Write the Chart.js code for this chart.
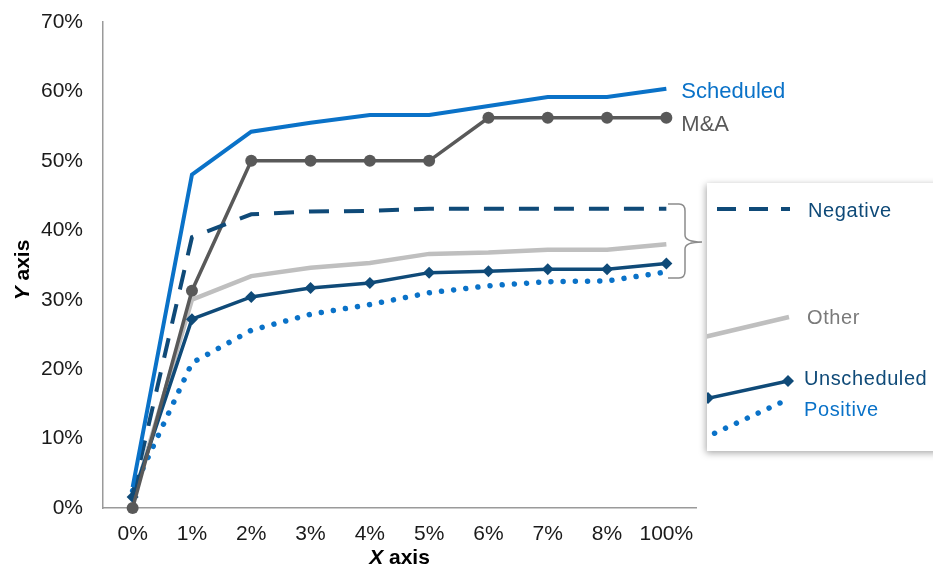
<!DOCTYPE html>
<html>
<head>
<meta charset="utf-8">
<script src="https://cdn.jsdelivr.net/npm/chart.js@4"></script>
<style>
  html, body { margin: 0; padding: 0; background: #fff; }
  #wrap { width: 933px; height: 569px; position: relative; }
</style>
</head>
<body>
<div id="wrap"><canvas id="chart" width="933" height="569"></canvas></div>
<script>
const categories = ["0%", "1%", "2%", "3%", "4%", "5%", "6%", "7%", "8%", "100%"];
const yTicks = [0, 10, 20, 30, 40, 50, 60, 70];

const scheduled = [3, 48, 54.2, 55.5, 56.6, 56.6, 57.9, 59.2, 59.2, 60.4];
const mna = [0, 31.3, 50, 50, 50, 50, 56.2, 56.2, 56.2, 56.2];
const negative = [2, 39, 42.3, 42.7, 42.8, 43.1, 43.1, 43.1, 43.1, 43.1];
const other = [1, 30, 33.4, 34.6, 35.3, 36.6, 36.8, 37.2, 37.2, 38.0];
const unscheduled = [1.6, 27.2, 30.4, 31.7, 32.4, 33.9, 34.1, 34.4, 34.4, 35.2];
const positive = [2.5, 20.9, 25.6, 27.9, 29.3, 31.0, 32.0, 32.6, 32.7, 34.0];

const BLUE = "#0A72C8";
const NAVY = "#0F4A78";
const DARKGRAY = "#595959";
const LIGHTGRAY = "#BFBFBF";
const FONT = "'Liberation Sans', Arial, sans-serif";

// annotations, bracket, legend box and axis titles
const extras = {
  id: "extras",
  afterDraw(chart) {
    const ctx = chart.ctx;
    const xs = chart.scales.x;
    const ys = chart.scales.y;
    const last = categories.length - 1;
    const lx = xs.getPixelForValue(last) + 15;

    ctx.save();
    ctx.font = "22px " + FONT;
    ctx.textBaseline = "middle";
    ctx.fillStyle = BLUE;
    ctx.fillText("Scheduled", lx, ys.getPixelForValue(scheduled[last]) + 3);
    ctx.fillStyle = DARKGRAY;
    ctx.fillText("M&A", lx, ys.getPixelForValue(mna[last]) + 7);

    // bracket
    ctx.strokeStyle = "#8c8c8c";
    ctx.lineWidth = 1.5;
    ctx.beginPath();
    ctx.moveTo(668, 204);
    ctx.lineTo(679, 204);
    ctx.quadraticCurveTo(685, 204, 685, 211);
    ctx.lineTo(685, 235);
    ctx.quadraticCurveTo(685, 242, 702, 242);
    ctx.quadraticCurveTo(685, 242, 685, 249);
    ctx.lineTo(685, 271);
    ctx.quadraticCurveTo(685, 278, 679, 278);
    ctx.lineTo(668, 278);
    ctx.stroke();

    // legend box
    ctx.save();
    ctx.shadowColor = "rgba(0,0,0,0.35)";
    ctx.shadowBlur = 7;
    ctx.shadowOffsetX = -1;
    ctx.shadowOffsetY = 2;
    ctx.fillStyle = "#fff";
    ctx.fillRect(707, 183, 240, 268);
    ctx.restore();

    ctx.save();
    ctx.beginPath();
    ctx.rect(707, 183, 240, 268);
    ctx.clip();
    ctx.lineCap = "butt";
    // negative
    ctx.strokeStyle = NAVY;
    ctx.lineWidth = 4;
    ctx.setLineDash([19, 13]);
    ctx.beginPath();
    ctx.moveTo(717, 209);
    ctx.lineTo(790, 209);
    ctx.stroke();
    ctx.setLineDash([]);
    // other
    ctx.strokeStyle = LIGHTGRAY;
    ctx.lineWidth = 4.5;
    ctx.beginPath();
    ctx.moveTo(700, 338);
    ctx.lineTo(789, 317);
    ctx.stroke();
    // unscheduled
    ctx.strokeStyle = NAVY;
    ctx.lineWidth = 3.5;
    ctx.beginPath();
    ctx.moveTo(700, 400);
    ctx.lineTo(788, 381);
    ctx.stroke();
    ctx.fillStyle = NAVY;
    [[788, 381], [708, 398]].forEach(([px, py]) => {
      ctx.beginPath();
      ctx.moveTo(px, py - 6);
      ctx.lineTo(px + 6, py);
      ctx.lineTo(px, py + 6);
      ctx.lineTo(px - 6, py);
      ctx.closePath();
      ctx.fill();
    });
    // positive
    ctx.strokeStyle = BLUE;
    ctx.lineWidth = 5.5;
    ctx.lineCap = "round";
    ctx.setLineDash([0.01, 12]);
    ctx.beginPath();
    ctx.moveTo(780, 403);
    ctx.lineTo(700, 440);
    ctx.stroke();
    ctx.setLineDash([]);
    ctx.restore();

    ctx.font = "20px " + FONT;
    ctx.letterSpacing = "0.6px";
    ctx.textBaseline = "middle";
    ctx.fillStyle = NAVY;
    ctx.fillText("Negative", 808, 211);
    ctx.fillStyle = "#7a7a7a";
    ctx.fillText("Other", 807, 318);
    ctx.fillStyle = NAVY;
    ctx.fillText("Unscheduled", 804, 379);
    ctx.fillStyle = BLUE;
    ctx.fillText("Positive", 804, 410);
    ctx.letterSpacing = "0px";

    // axis titles, italic letter + bold word
    ctx.fillStyle = "#000";
    ctx.textBaseline = "middle";
    const cx = (chart.chartArea.left + chart.chartArea.right) / 2;
    const it = "italic bold 21px " + FONT;
    const bd = "bold 21px " + FONT;
    ctx.font = it;
    const w1 = ctx.measureText("X").width;
    ctx.font = bd;
    const w2 = ctx.measureText(" axis").width;
    let sx = cx - (w1 + w2) / 2;
    ctx.font = it;
    ctx.fillText("X", sx, 558);
    ctx.font = bd;
    ctx.fillText(" axis", sx + w1, 558);

    ctx.translate(23, 270);
    ctx.rotate(-Math.PI / 2);
    ctx.font = it;
    const w3 = ctx.measureText("Y").width;
    ctx.font = bd;
    const w4 = ctx.measureText(" axis").width;
    sx = -(w3 + w4) / 2;
    ctx.font = it;
    ctx.fillText("Y", sx, 0);
    ctx.font = bd;
    ctx.fillText(" axis", sx + w3, 0);
    ctx.restore();
  }
};

new Chart(document.getElementById("chart").getContext("2d"), {
  type: "line",
  data: {
    labels: categories,
    datasets: [
      {
        label: "Scheduled",
        data: scheduled,
        borderColor: BLUE,
        borderWidth: 4,
        pointRadius: 0,
        order: 1,
      },
      {
        label: "Negative",
        data: negative,
        borderColor: NAVY,
        borderWidth: 4,
        borderDash: [20, 15],
        pointRadius: 0,
        order: 2,
      },
      {
        label: "M&A",
        data: mna,
        borderColor: DARKGRAY,
        borderWidth: 3.5,
        pointRadius: 6,
        pointBackgroundColor: DARKGRAY,
        pointBorderWidth: 0,
        order: 3,
      },
      {
        label: "Unscheduled",
        data: unscheduled,
        borderColor: NAVY,
        borderWidth: 3.5,
        pointStyle: "rectRot",
        pointRadius: 6,
        pointBackgroundColor: NAVY,
        pointBorderWidth: 0,
        order: 4,
      },
      {
        label: "Other",
        data: other,
        borderColor: LIGHTGRAY,
        borderWidth: 4.5,
        pointRadius: 0,
        order: 5,
      },
      {
        label: "Positive",
        data: positive,
        borderColor: BLUE,
        borderWidth: 5.5,
        borderDash: [0.01, 12.2],
        borderCapStyle: "round",
        pointRadius: 0,
        order: 6,
      },
    ],
  },
  options: {
    responsive: false,
    animation: false,
    clip: false,
    layout: { padding: { left: 0, right: 237, top: 22, bottom: 0 } },
    plugins: {
      legend: { display: false },
      tooltip: { enabled: false },
    },
    elements: { line: { tension: 0 } },
    scales: {
      x: {
        offset: true,
        grid: { display: false, drawTicks: false },
        border: { display: true, color: "#9a9a9a", width: 1.5 },
        ticks: {
          color: "#1a1a1a",
          font: { family: FONT, size: 21 },
          padding: 14,
          maxRotation: 0,
          autoSkip: false,
        },
        afterFit: (s) => { s.height = 61; },
      },
      y: {
        min: 0,
        max: 70,
        grid: { display: false, drawTicks: false },
        border: { display: true, color: "#9a9a9a", width: 1.5 },
        afterBuildTicks: (s) => { s.ticks = yTicks.map((v) => ({ value: v })); },
        ticks: {
          color: "#1a1a1a",
          font: { family: FONT, size: 21 },
          padding: 20,
          callback: (v) => v + "%",
        },
        afterFit: (s) => {
          s.width = 103;
          s.paddingTop = 0;
          s.paddingBottom = 0;
        },
      },
    },
  },
  plugins: [extras],
});
</script>
</body>
</html>
